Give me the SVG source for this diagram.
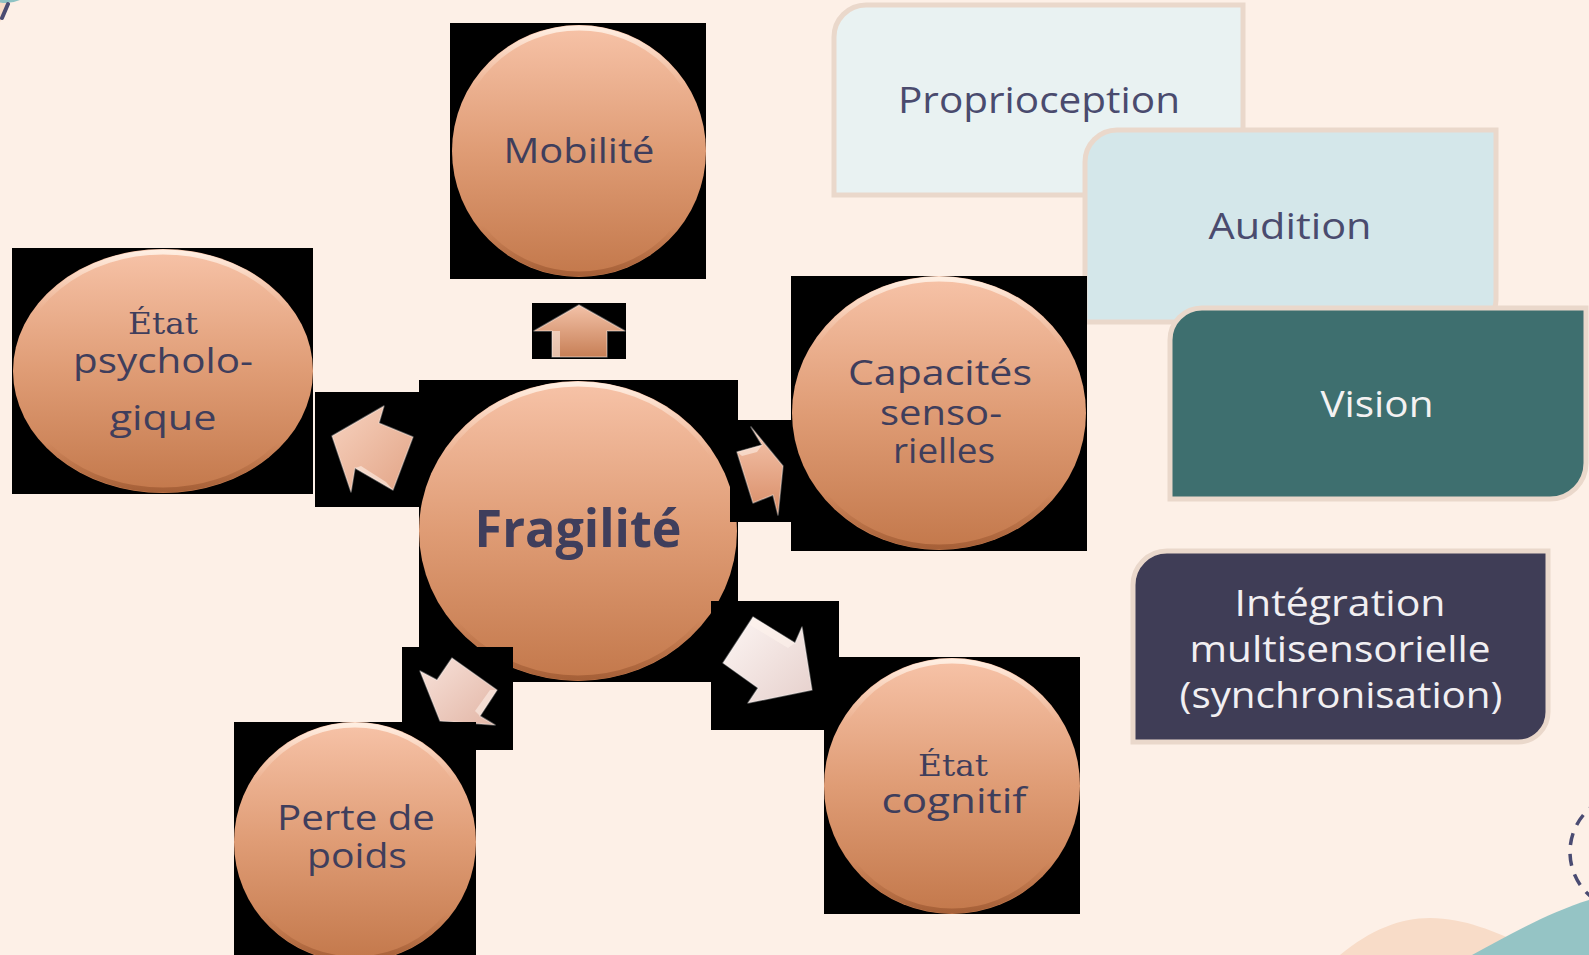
<svg xmlns="http://www.w3.org/2000/svg" width="1589" height="955" viewBox="0 0 1589 955">
<defs>
<linearGradient id="ball" x1="0" y1="0" x2="0" y2="1">
<stop offset="0" stop-color="#f7c3a8"/>
<stop offset="0.5" stop-color="#df9c75"/>
<stop offset="1" stop-color="#c3784b"/>
</linearGradient>
<linearGradient id="rim" x1="0" y1="0" x2="0" y2="1">
<stop offset="0" stop-color="#fff0e4" stop-opacity="0.95"/>
<stop offset="0.25" stop-color="#fbd9c4" stop-opacity="0"/>
<stop offset="0.8" stop-color="#a8623a" stop-opacity="0"/>
<stop offset="1" stop-color="#9a5630" stop-opacity="0.7"/>
</linearGradient>
<linearGradient id="aUp" x1="0" y1="0" x2="0" y2="1">
<stop offset="0" stop-color="#f3c2a8"/>
<stop offset="1" stop-color="#c77f56"/>
</linearGradient>
<linearGradient id="aLeft" x1="0" y1="0" x2="1" y2="1">
<stop offset="0" stop-color="#f7d2bf"/>
<stop offset="1" stop-color="#e2a486"/>
</linearGradient>
<linearGradient id="aRight" x1="0" y1="0" x2="0" y2="1">
<stop offset="0" stop-color="#f5c6ae"/>
<stop offset="1" stop-color="#d88c66"/>
</linearGradient>
<linearGradient id="aLR" x1="0" y1="0" x2="1" y2="1">
<stop offset="0" stop-color="#fdf6f4"/>
<stop offset="1" stop-color="#e6d0cc"/>
</linearGradient>
<linearGradient id="aLL" x1="0" y1="0" x2="1" y2="1">
<stop offset="0" stop-color="#f8e2da"/>
<stop offset="1" stop-color="#e2b6a6"/>
</linearGradient>
<style>
.bk{fill:#000}
.ball{fill:url(#ball)}
.rim{fill:none;stroke:url(#rim);stroke-width:5}
.t{font-family:"Open Sans","Noto Sans","DejaVu Sans",sans-serif;font-size:34px;fill:#3f3e5c;text-anchor:middle}
.tb{font-family:"Open Sans","Noto Sans","DejaVu Sans",sans-serif;font-size:52px;font-weight:700;fill:#3f3e5c;text-anchor:middle}
.ts{font-family:"DejaVu Serif","Liberation Serif",serif;font-size:29px;fill:#3f3e5c;text-anchor:middle}
.bt{font-family:"Open Sans","Noto Sans","DejaVu Sans",sans-serif;font-size:36px;text-anchor:middle}
.box{stroke:#ead8cb;stroke-width:5}
.arr{stroke:#ffffff;stroke-opacity:0.35;stroke-width:1.5;stroke-linejoin:round}
.facet{fill:#fff4ec;opacity:0.55}
</style>
</defs>
<rect x="0" y="0" width="1589" height="955" fill="#fdf0e7"/>
<!-- decorations -->
<g id="decor">
<path d="M0 0 H9 L0 22 Z" fill="#f8dcc8"/>
<ellipse cx="6" cy="-40" rx="38" ry="43" fill="#8fc3c4"/>
<line x1="8" y1="4" x2="2" y2="18" stroke="#4a4b72" stroke-width="4" stroke-linecap="round"/>
<path d="M1340 955 C1370 930 1400 918 1430 918 C1465 918 1495 932 1525 945 L1540 955 Z" fill="#f8dcc8"/>
<path d="M1472 955 C1510 934 1550 912 1589 900 V955 Z" fill="#95c4c5"/>
<circle cx="1628" cy="852" r="58" fill="none" stroke="#4a4b72" stroke-width="3.5" stroke-dasharray="12 9"/>
</g>
<!-- right side boxes -->
<g id="proprioception">
<path class="box" fill="#e9f2f2" d="M834 37 A32 32 0 0 1 866 5 H1243 V165 A30 30 0 0 1 1213 195 H834 Z"/>
<text class="bt" fill="#4a4b6e" x="1039" y="113" textLength="282" lengthAdjust="spacingAndGlyphs">Proprioception</text>
</g>
<g id="audition">
<path class="box" fill="#d4e7ea" d="M1085 162 A32 32 0 0 1 1117 130 H1496 V300 A22 22 0 0 1 1474 322 H1085 Z"/>
<text class="bt" fill="#4a4b6e" x="1290" y="239" textLength="163" lengthAdjust="spacingAndGlyphs">Audition</text>
</g>
<g id="vision">
<path class="box" fill="#3e6f6f" d="M1170 340 A32 32 0 0 1 1202 308 H1586 V463 A36 36 0 0 1 1550 499 H1170 Z"/>
<text class="bt" fill="#f4f2f2" x="1377" y="417" textLength="113" lengthAdjust="spacingAndGlyphs">Vision</text>
</g>
<g id="integration">
<path class="box" fill="#3f3d56" d="M1133 585 A34 34 0 0 1 1167 551 H1548 V712 A30 30 0 0 1 1518 742 H1133 Z"/>
<text class="bt" fill="#f1eff2" x="1340" y="616" textLength="211" lengthAdjust="spacingAndGlyphs">Intégration</text>
<text class="bt" fill="#f1eff2" x="1340" y="662" textLength="301" lengthAdjust="spacingAndGlyphs">multisensorielle</text>
<text class="bt" fill="#f1eff2" x="1341" y="708" textLength="323" lengthAdjust="spacingAndGlyphs">(synchronisation)</text>
</g>
<!-- central node -->
<g id="fragilite">
<rect class="bk" x="419" y="380" width="319" height="302"/>
<ellipse class="ball" cx="578" cy="531" rx="159" ry="150"/>
<ellipse class="rim" cx="578" cy="531" rx="156" ry="147"/>
<text class="tb" x="578" y="547" textLength="207" lengthAdjust="spacingAndGlyphs">Fragilité</text>
</g>
<!-- connectors (arrows) -->
<g id="connectors">
<rect class="bk" x="532" y="303" width="94" height="56"/>
<polygon class="arr" fill="url(#aUp)" points="579,305 625,331 607,331 607,357 552,357 552,331 534,331"/>
<polygon class="facet" points="552,331 560,331 560,357 552,357"/>
<rect class="bk" x="315" y="392" width="104" height="115"/>
<polygon class="arr" fill="url(#aLeft)" points="332,436 384,406 379,423 413,437 393,490 355,468 351,492"/>
<polygon class="facet" points="355,468 393,490 386,482 361,466"/>
<rect class="bk" x="730" y="420" width="62" height="102"/>
<polygon class="arr" fill="url(#aRight)" points="737,452 762,445 751,427 783,466 778,515 773,495 753,503"/>
<polygon class="facet" points="737,452 762,445 757,452 742,456"/>
<rect class="bk" x="402" y="647" width="111" height="103"/>
<polygon class="arr" fill="url(#aLL)" points="452,658 497,690 480,716 495,725 440,721 420,671 437,680"/>
<polygon class="facet" points="497,690 480,716 475,711 490,690"/>
<rect class="bk" x="711" y="601" width="128" height="129"/>
<polygon class="arr" fill="url(#aLR)" points="753,617 795,643 802,627 812,690 748,703 758,688 723,663"/>
<polygon class="facet" points="753,617 795,643 788,648 750,625"/>
</g>
<!-- outer nodes -->
<g id="mobilite">
<rect class="bk" x="450" y="23" width="256" height="256"/>
<ellipse class="ball" cx="579" cy="151" rx="127" ry="126"/>
<ellipse class="rim" cx="579" cy="151" rx="124" ry="123"/>
<text class="t" x="579" y="163" textLength="151" lengthAdjust="spacingAndGlyphs">Mobilité</text>
</g>
<g id="etat-psychologique">
<rect class="bk" x="12" y="248" width="301" height="246"/>
<ellipse class="ball" cx="163" cy="371" rx="150" ry="122"/>
<ellipse class="rim" cx="163" cy="371" rx="147" ry="119"/>
<text class="ts" x="163" y="334" textLength="70" lengthAdjust="spacingAndGlyphs">État</text>
<text class="t" x="163" y="373" textLength="180" lengthAdjust="spacingAndGlyphs">psycholo-</text>
<text class="t" x="163" y="430" textLength="107" lengthAdjust="spacingAndGlyphs">gique</text>
</g>
<g id="capacites-sensorielles">
<rect class="bk" x="791" y="276" width="296" height="275"/>
<ellipse class="ball" cx="939" cy="413" rx="147" ry="137"/>
<ellipse class="rim" cx="939" cy="413" rx="144" ry="134"/>
<text class="t" x="940" y="385" textLength="184" lengthAdjust="spacingAndGlyphs">Capacités</text>
<text class="t" x="941" y="425" textLength="122" lengthAdjust="spacingAndGlyphs">senso-</text>
<text class="t" x="944" y="463" textLength="102" lengthAdjust="spacingAndGlyphs">rielles</text>
</g>
<g id="etat-cognitif">
<rect class="bk" x="824" y="657" width="256" height="257"/>
<ellipse class="ball" cx="952" cy="786" rx="128" ry="128"/>
<ellipse class="rim" cx="952" cy="786" rx="125" ry="125"/>
<text class="ts" x="953" y="776" textLength="70" lengthAdjust="spacingAndGlyphs">État</text>
<text class="t" x="954" y="813" textLength="145" lengthAdjust="spacingAndGlyphs">cognitif</text>
</g>
<g id="perte-de-poids">
<rect class="bk" x="234" y="722" width="242" height="233"/>
<ellipse class="ball" cx="355" cy="842" rx="121" ry="120"/>
<ellipse class="rim" cx="355" cy="842" rx="118" ry="117"/>
<text class="t" x="356" y="830" textLength="158" lengthAdjust="spacingAndGlyphs">Perte de</text>
<text class="t" x="357" y="868" textLength="100" lengthAdjust="spacingAndGlyphs">poids</text>
</g>
</svg>
